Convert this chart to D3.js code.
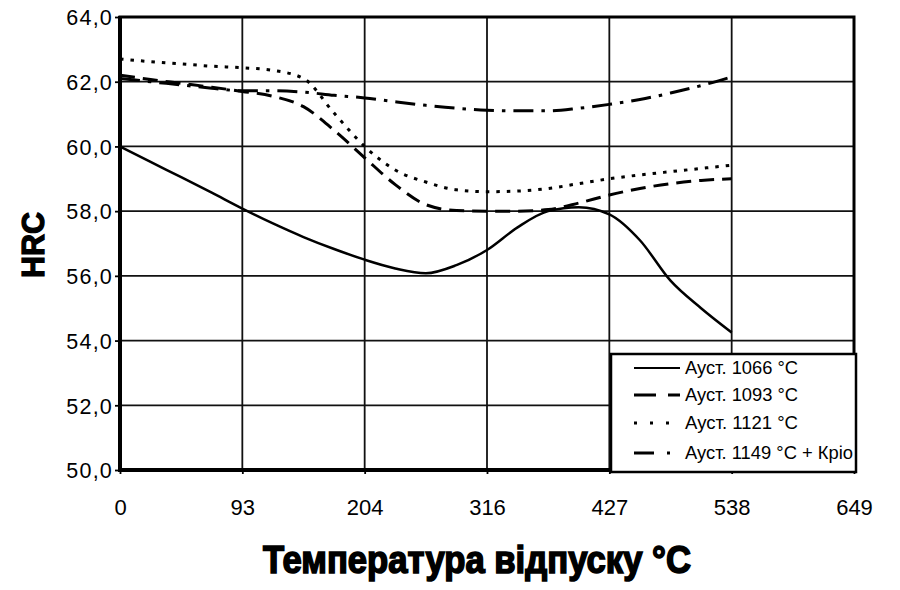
<!DOCTYPE html>
<html>
<head>
<meta charset="utf-8">
<script src="https://cdn.jsdelivr.net/npm/d3@7"></script>
<style>
  html, body { margin: 0; padding: 0; background: #fff; }
  svg { display: block; }
</style>
</head>
<body>
<svg id="chart" width="900" height="590"></svg>
<script>
// ---- data ----
const xTickLabels = ["0", "93", "204", "316", "427", "538", "649"];
const yTickValues = [50, 52, 54, 56, 58, 60, 62, 64];
// positions along the category axis (0 = "0", 1 = "93", ... 5 = "538")
const xPositions = [0, 0.25, 0.5, 0.75, 1, 1.25, 1.5, 1.75, 2, 2.25, 2.5, 2.75, 3, 3.25, 3.5, 3.75, 4, 4.25, 4.5, 4.75, 5];
const seriesNames = ["Ауст. 1066 °C", "Ауст. 1093 °C", "Ауст. 1121 °C", "Ауст. 1149 °C + Кріо"];
const hrc1066 = [60.0, 59.52, 59.05, 58.57, 58.08, 57.62, 57.2, 56.83, 56.5, 56.23, 56.08, 56.33, 56.8, 57.5, 58.0, 58.12, 57.9, 57.1, 55.85, 55.0, 54.25];
const hrc1093 = [62.2, 62.07, 61.95, 61.83, 61.7, 61.55, 61.23, 60.5, 59.65, 58.82, 58.2, 58.02, 58.0, 58.0, 58.05, 58.25, 58.5, 58.7, 58.85, 58.95, 59.0];
const hrc1121 = [62.7, 62.62, 62.55, 62.48, 62.43, 62.35, 62.1, 61.03, 60.0, 59.27, 58.9, 58.66, 58.6, 58.62, 58.7, 58.85, 59.0, 59.12, 59.22, 59.32, 59.42];
const hrc1149 = [62.1, 62.0, 61.9, 61.8, 61.72, 61.72, 61.68, 61.58, 61.5, 61.38, 61.27, 61.18, 61.12, 61.1, 61.1, 61.18, 61.3, 61.45, 61.65, 61.88, 62.15];
const yTitle = "HRC";
const xTitle = "Температура відпуску °C";

// ---- styles ----
const seriesValues = [hrc1066, hrc1093, hrc1121, hrc1149];
const dashes = [null, "15,8", "3.5,7", "20,8,3.5,8"];
const legendDashes = [null, "22,12", "3,13", "20,13,3,40"];
const widths = [2.5, 3, 3, 3];

const svg = d3.select("#chart");
const L = 120, R = 854, T = 17, B = 470;

const x = d3.scaleLinear().domain([0, 6]).range([L, R]);
const y = d3.scaleLinear().domain([50, 64]).range([B, T]);

// grid
const grid = svg.append("g");
grid.selectAll("line.h").data(yTickValues).join("line")
  .attr("x1", L).attr("x2", R)
  .attr("y1", d => y(d)).attr("y2", d => y(d))
  .attr("stroke", "#111").attr("stroke-width", 1.8);
grid.selectAll("line.v").data(d3.range(xTickLabels.length)).join("line")
  .attr("x1", d => x(d)).attr("x2", d => x(d))
  .attr("y1", T).attr("y2", B)
  .attr("stroke", "#111").attr("stroke-width", 1.8);

// axes
const yAxis = d3.axisLeft(y).tickValues(yTickValues)
  .tickFormat(d => d.toFixed(1).replace(".", ","))
  .tickSize(5).tickPadding(2);
const gy = svg.append("g").attr("transform", `translate(${L},0)`).call(yAxis);
gy.select(".domain").remove();
gy.selectAll(".tick line").attr("stroke", "#000").attr("stroke-width", 1.8);
gy.selectAll(".tick text")
  .attr("font-family", "Liberation Sans, Arial, sans-serif")
  .attr("font-size", 21.5).attr("letter-spacing", 1.2).attr("fill", "#000")
  .attr("dy", "0.36em");

const xAxis = d3.axisBottom(x).tickValues(d3.range(xTickLabels.length))
  .tickFormat(i => xTickLabels[i]).tickSize(4).tickPadding(33);
const gx = svg.append("g").attr("transform", `translate(0,${B})`).call(xAxis);
gx.select(".domain").remove();
gx.selectAll(".tick line").attr("stroke", "#000").attr("stroke-width", 1.8);
gx.selectAll(".tick text")
  .attr("font-family", "Liberation Sans, Arial, sans-serif")
  .attr("font-size", 22).attr("fill", "#000").attr("dy", "0.36em");

// frame
svg.append("rect").attr("x", L).attr("y", T).attr("width", R - L).attr("height", B - T)
  .attr("fill", "none").attr("stroke", "#000").attr("stroke-width", 3);
svg.append("line").attr("x1", L).attr("x2", L).attr("y1", T - 1).attr("y2", B + 2)
  .attr("stroke", "#000").attr("stroke-width", 4);
svg.append("line").attr("x1", L - 1).attr("x2", R).attr("y1", B).attr("y2", B)
  .attr("stroke", "#000").attr("stroke-width", 4);

// series lines
const line = d3.line()
  .x((d, i) => x(xPositions[i]))
  .y(d => y(d))
  .curve(d3.curveMonotoneX);

svg.append("g").selectAll("path").data(seriesValues).join("path")
  .attr("d", d => line(d))
  .attr("fill", "none")
  .attr("stroke", "#000")
  .attr("stroke-width", (d, i) => widths[i])
  .attr("stroke-dasharray", (d, i) => dashes[i])
  .attr("stroke-linecap", "butt");

// legend
const lg = svg.append("g");
lg.append("rect").attr("x", 611).attr("y", 354).attr("width", 245).attr("height", 118)
  .attr("fill", "#fff").attr("stroke", "#000").attr("stroke-width", 2.5);
const rowY = [368, 395, 423, 453];
seriesNames.forEach((name, i) => {
  lg.append("line").attr("x1", 634).attr("x2", 680)
    .attr("y1", rowY[i]).attr("y2", rowY[i])
    .attr("stroke", "#000").attr("stroke-width", i === 0 ? 2.2 : 3.2)
    .attr("stroke-dasharray", legendDashes[i]);
  lg.append("text").attr("x", 685).attr("y", rowY[i]).attr("dy", "0.36em")
    .attr("font-family", "Liberation Sans, Arial, sans-serif")
    .attr("font-size", 18).attr("fill", "#000")
    .attr("textLength", i === 3 ? 168 : 113).attr("lengthAdjust", "spacingAndGlyphs")
    .text(name);
});

// axis titles
svg.append("text")
  .attr("transform", `translate(44,245) rotate(-90)`)
  .attr("text-anchor", "middle")
  .attr("font-family", "Liberation Sans, Arial, sans-serif")
  .attr("font-weight", "bold").attr("font-size", 32)
  .attr("stroke", "#000").attr("stroke-width", 1.3)
  .attr("textLength", 66).attr("lengthAdjust", "spacingAndGlyphs")
  .text(yTitle);

svg.append("text")
  .attr("x", 263).attr("y", 573)
  .attr("font-family", "Liberation Sans, Arial, sans-serif")
  .attr("font-weight", "bold").attr("font-size", 38)
  .attr("stroke", "#000").attr("stroke-width", 1.6)
  .attr("textLength", 428).attr("lengthAdjust", "spacingAndGlyphs")
  .text(xTitle);
</script>
</body>
</html>
